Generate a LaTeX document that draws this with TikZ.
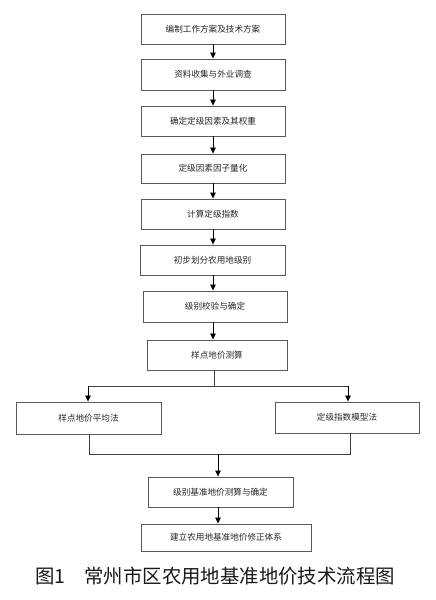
\documentclass[tikz,border=0pt]{standalone}
\usepackage{fontspec}
\setmainfont{Liberation Sans}
\newfontfamily\cjk{Noto Sans CJK SC}
\usetikzlibrary{arrows.meta}
\begin{document}
\begin{tikzpicture}[x=1pt,y=-1pt,
  box/.style={draw=black!65,line width=0.9pt,inner sep=0pt,font=\cjk\fontsize{8.6}{10}\selectfont,text=black!85},
  arr/.style={draw=black,line width=0.8pt,-{Triangle[length=6pt,width=5.5pt]}},
  ln/.style={draw=black!75,line width=0.8pt}]
\useasboundingbox[fill=white] (0,0) rectangle (436,600);
\newcommand{\bx}[6]{\node[box,minimum width={(#4-#2)*1pt},minimum height={(#5-#3)*1pt}] (#1) at ({(#2+#4)/2},{(#3+#5)/2}) {#6};}
\bx{b1}{141}{14}{285}{44}{编制工作方案及技术方案}
\bx{b2}{141}{59}{285}{90}{资料收集与外业调查}
\bx{b3}{141}{106}{285}{136}{确定定级因素及其权重}
\bx{b4}{141}{154}{285}{183}{定级因素因子量化}
\bx{b5}{141}{199}{285}{229}{计算定级指数}
\bx{b6}{140}{245}{285}{275}{初步划分农用地级别}
\bx{b7}{143}{291}{287}{322}{级别校验与确定}
\bx{b8}{147}{340}{287}{370}{样点地价测算}
\bx{b9}{16}{402}{161}{434}{样点地价平均法}
\bx{b10}{275}{402}{419}{433}{定级指数模型法}
\bx{b11}{148}{477}{293}{507}{级别基准地价测算与确定}
\bx{b12}{141}{524}{311}{551}{建立农用地基准地价修正体系}
\draw[arr] (213,44) -- (b2.north -| 213,0);
\draw[arr] (213,90) -- (b3.north -| 213,0);
\draw[arr] (213,136) -- (b4.north -| 213,0);
\draw[arr] (213,183) -- (b5.north -| 213,0);
\draw[arr] (213,229) -- (b6.north -| 213,0);
\draw[arr] (213,275) -- (b7.north -| 213,0);
\draw[arr] (213,322) -- (b8.north -| 213,0);
\coordinate (s8) at (214,386);
\coordinate (sl) at (88,386);
\coordinate (sr) at (348,386);
\draw[ln] (b8.south -| s8) -- (s8);
\draw[ln] (sl) -- (sr);
\draw[arr] (sl) -- (b9.north -| sl);
\draw[arr] (sr) -- (b10.north -| sr);
\coordinate (ml) at (89,454);
\coordinate (mr) at (350,454);
\coordinate (mc) at (218,454);
\draw[ln] (b9.south -| ml) -- (ml) -- (mr) -- (b10.south -| mr);
\draw[arr] (mc) -- (b11.north -| mc);
\draw[arr] (b11.south -| 218,0) -- (b12.north -| 218,0);
\node[font=\cjk\fontsize{19.4}{22}\selectfont,text=black!90,inner sep=0pt] (cap) at (215,576) {图1　常州市区农用地基准地价技术流程图};
\end{tikzpicture}
\end{document}
